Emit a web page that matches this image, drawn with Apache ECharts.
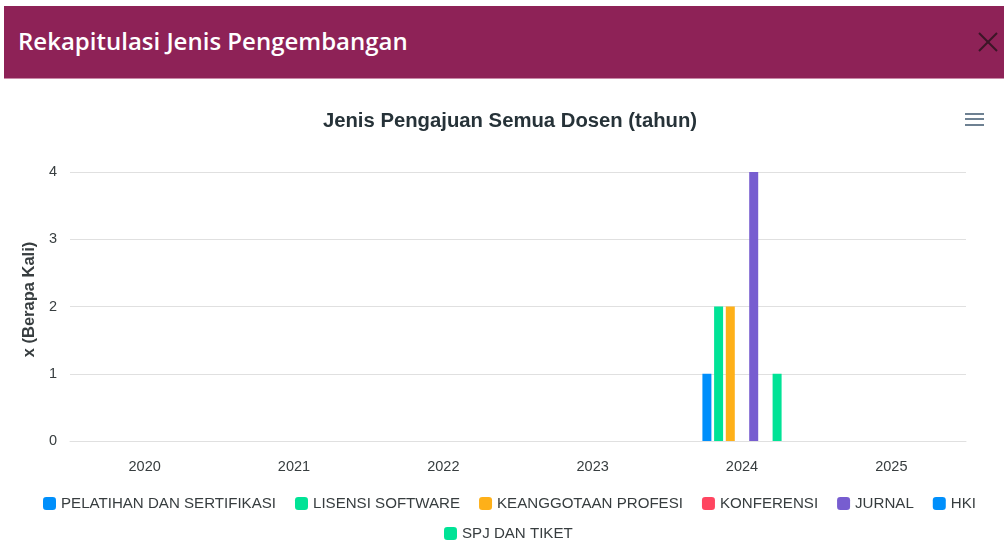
<!DOCTYPE html>
<html lang="id">
<head>
    <meta charset="UTF-8">
    <title>Rekapitulasi Jenis Pengembangan</title>
    <script src="https://cdn.jsdelivr.net/npm/echarts@6/dist/echarts.min.js"></script>
    <style>
        html, body {margin:0; padding:0; background:#fff;}
        #wrap {position:relative; width:1004px; height:542px; overflow:hidden;}
        #head {position:absolute; left:4px; top:6px; width:1010px; height:73px; background:#8e2257;
               border-bottom:1px solid #c98aa8; box-sizing:border-box;}
        #head h2 {margin:0; position:absolute; left:14px; top:18px; color:#fff;
                  font:600 24px "Open Sans", sans-serif; letter-spacing:0;}
        #close {position:absolute; left:977px; top:31px;}
        #main {position:absolute; left:0; top:0; width:1004px; height:542px;}
    </style>
</head>
<body>
<div id="wrap">
    <div id="main"></div>
    <div id="head">
        <h2>Rekapitulasi Jenis Pengembangan</h2>
    </div>
    <svg id="close" width="22" height="22">
        <line x1="2" y1="2" x2="20" y2="20" stroke="#3b1627" stroke-width="2"/>
        <line x1="20" y1="2" x2="2" y2="20" stroke="#3b1627" stroke-width="2"/>
    </svg>
</div>
<script>
    // data
    var tahun = ['2020', '2021', '2022', '2023', '2024', '2025'];
    var jenis = ['PELATIHAN DAN SERTIFIKASI', 'LISENSI SOFTWARE', 'KEANGGOTAAN PROFESI',
                 'KONFERENSI', 'JURNAL', 'HKI', 'SPJ DAN TIKET'];
    var pelatihan   = [0, 0, 0, 0, 1, 0];
    var lisensi     = [0, 0, 0, 0, 2, 0];
    var keanggotaan = [0, 0, 0, 0, 2, 0];
    var konferensi  = [0, 0, 0, 0, 0, 0];
    var jurnal      = [0, 0, 0, 0, 4, 0];
    var hki         = [0, 0, 0, 0, 0, 0];
    var spj         = [0, 0, 0, 0, 1, 0];
    var warna = ['#008FFB', '#00E396', '#FEB019', '#FF4560', '#775DD0', '#008FFB', '#00E396'];

    var semua = [pelatihan, lisensi, keanggotaan, konferensi, jurnal, hki, spj];
    var series = [];
    for (var i = 0; i < jenis.length; i++) {
        series.push({
            name: jenis[i],
            type: 'bar',
            data: semua[i],
            barWidth: 9,
            barGap: '30%',
            itemStyle: {color: warna[i]},
            emphasis: {disabled: true}
        });
    }

    var font = 'Liberation Sans, Arial, sans-serif';
    var chart = echarts.init(document.getElementById('main'));
    var legendText = {color: '#373d3f', fontSize: 15.1, fontFamily: font};
    chart.setOption({
        animation: false,
        color: warna,
        title: {
            text: 'Jenis Pengajuan Semua Dosen (tahun)',
            left: 505,
            textAlign: 'center',
            top: 106,
            textStyle: {fontSize: 20.3, fontWeight: 'bold', color: '#263238', fontFamily: font}
        },
        legend: [{
            data: jenis.slice(0, 6),
            left: 43,
            top: 496,
            icon: 'roundRect',
            itemWidth: 13,
            itemHeight: 13,
            itemGap: 19,
            padding: 0,
            textStyle: legendText
        }, {
            data: jenis.slice(6),
            left: 444,
            top: 526,
            icon: 'roundRect',
            itemWidth: 13,
            itemHeight: 13,
            padding: 0,
            textStyle: legendText
        }],
        grid: {left: 70, right: 38, top: 172, bottom: 101, containLabel: false},
        xAxis: {
            type: 'category',
            data: tahun,
            axisLine: {lineStyle: {color: '#e0e0e0'}},
            axisTick: {length: 6, lineStyle: {color: '#e0e0e0'}},
            axisLabel: {margin: 18, color: '#373d3f', fontSize: 14.5, fontFamily: font}
        },
        yAxis: {
            type: 'value',
            min: 0,
            max: 4,
            interval: 1,
            name: 'x (Berapa Kali)',
            nameLocation: 'middle',
            nameGap: 30,
            nameTextStyle: {fontSize: 16.5, fontWeight: 'bold', color: '#373d3f', fontFamily: font,
                            padding: [0, 0, 0, 14]},
            axisLabel: {margin: 13, color: '#373d3f', fontSize: 14.5, fontFamily: font},
            splitLine: {lineStyle: {color: '#e0e0e0'}}
        },
        graphic: [
            {type: 'rect', shape: {x: 965, y: 113, width: 19, height: 2}, style: {fill: '#6E8192'}},
            {type: 'rect', shape: {x: 965, y: 118, width: 19, height: 2}, style: {fill: '#6E8192'}},
            {type: 'rect', shape: {x: 965, y: 124, width: 19, height: 2}, style: {fill: '#6E8192'}}
        ],
        series: series
    });
</script>
</body>
</html>
